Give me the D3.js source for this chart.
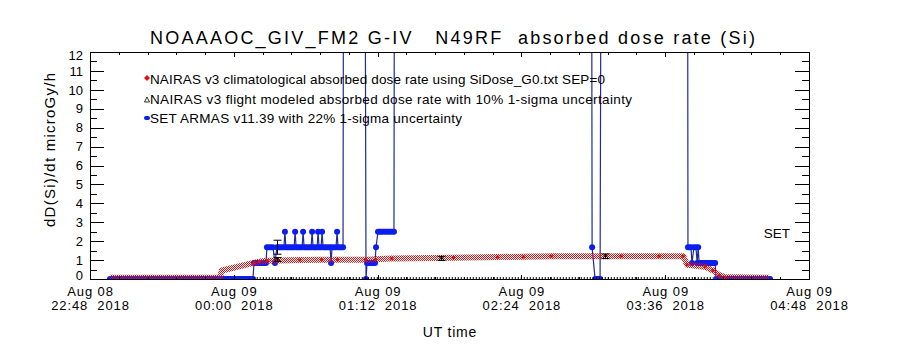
<!DOCTYPE html>
<html>
<head>
<meta charset="utf-8">
<script src="https://cdn.jsdelivr.net/npm/d3@7"></script>
<style>
  body { margin: 0; background: #fff; }
  text { font-family: "Liberation Sans", Arial, sans-serif; white-space: pre; fill: #000; }
</style>
</head>
<body>
<svg id="chart" width="900" height="350"></svg>
<script>
// ---------------------------------------------------------------------------
// DATA (times are "DD HH:MM:SS" in Aug 2018, UT)
// ---------------------------------------------------------------------------
const titleText = "NOAAAOC_GIV_FM2 G-IV   N49RF  absorbed dose rate (Si)";
const yLabelText = "dD(Si)/dt microGy/h";
const xLabelText = "UT time";
const legendLabels = [
  "NAIRAS v3 climatological absorbed dose rate using SiDose_G0.txt SEP=0",
  "NAIRAS v3 flight modeled absorbed dose rate with 10% 1-sigma uncertainty",
  "SET ARMAS v11.39 with 22% 1-sigma uncertainty",
];

const xDomain = ["08 22:48:00", "09 04:48:00"];
const xTickTimes = ["08 22:48:00", "09 00:00:00", "09 01:12:00", "09 02:24:00", "09 03:36:00", "09 04:48:00"];
const yTicks = [0, 1, 2, 3, 4, 5, 6, 7, 8, 9, 10, 11, 12];

// NAIRAS climatological dose rate
const climTimes = [
  "08 22:58:00", "08 23:25:00", "08 23:53:00", "08 23:54:00", "09 00:10:00", "09 00:13:00",
  "09 00:17:00", "09 00:33:00", "09 00:44:00", "09 00:52:00", "09 01:06:00", "09 01:11:00",
  "09 01:19:00", "09 01:50:00", "09 02:12:00", "09 02:25:00", "09 02:39:00", "09 03:14:00",
  "09 03:33:00", "09 03:45:00", "09 03:47:00", "09 03:56:00", "09 04:00:00", "09 04:03:00",
  "09 04:06:00", "09 04:28:00",
];
const climValues = [
  0.06, 0.06, 0.06, 0.45, 0.85, 0.92,
  0.97, 1.0, 1.02, 1.02, 1.02, 1.04,
  1.08, 1.12, 1.16, 1.18, 1.2, 1.2,
  1.2, 1.2, 0.75, 0.65, 0.45, 0.2,
  0.1, 0.06,
];

// NAIRAS flight modeled points (10% 1-sigma)
const flightTimes = ["09 00:21:36", "09 01:43:48", "09 03:05:54"];
const flightValues = [1.03, 1.09, 1.2];
const flightSigma = 0.10;

// SET ARMAS error bar (22% 1-sigma)
const setErrTimes = ["09 00:21:36"];
const setErrValues = [1.68];
const setSigma = 0.22;

// SET ARMAS dose rate, as runs of a constant level: [start, end, value]
const setRuns = [
  ["08 22:58:00", "09 00:09:36", 0],
  ["09 00:10:06", "09 00:16:06", 0.85],
  ["09 00:16:36", "09 00:19:36", 1.68],
  ["09 00:20:36", "09 00:20:36", 0.85],
  ["09 00:21:36", "09 00:25:06", 1.68],
  ["09 00:25:36", "09 00:25:36", 2.5],
  ["09 00:26:06", "09 00:30:12", 1.68],
  ["09 00:30:42", "09 00:30:42", 2.5],
  ["09 00:31:12", "09 00:34:12", 1.68],
  ["09 00:34:42", "09 00:34:42", 2.5],
  ["09 00:35:12", "09 00:38:42", 1.68],
  ["09 00:39:12", "09 00:39:12", 2.5],
  ["09 00:39:42", "09 00:41:42", 1.68],
  ["09 00:42:12", "09 00:42:12", 2.5],
  ["09 00:42:42", "09 00:43:42", 1.68],
  ["09 00:44:12", "09 00:44:12", 2.5],
  ["09 00:44:42", "09 00:48:12", 1.68],
  ["09 00:48:42", "09 00:48:42", 0.85],
  ["09 00:49:12", "09 00:51:12", 1.68],
  ["09 00:51:42", "09 00:51:42", 2.5],
  ["09 00:52:12", "09 00:54:42", 1.68],
  ["09 00:55:12", "09 01:05:12", 40],
  ["09 01:06:12", "09 01:06:12", 0],
  ["09 01:06:42", "09 01:10:42", 0.85],
  ["09 01:11:12", "09 01:11:12", 1.68],
  ["09 01:12:12", "09 01:20:12", 2.5],
  ["09 01:20:42", "09 02:58:54", 40],
  ["09 02:59:24", "09 02:59:24", 1.68],
  ["09 03:00:54", "09 03:03:24", 0],
  ["09 03:04:24", "09 03:47:00", 40],
  ["09 03:47:24", "09 03:48:54", 1.68],
  ["09 03:49:24", "09 03:49:24", 0.85],
  ["09 03:50:24", "09 03:51:24", 1.68],
  ["09 03:52:00", "09 03:52:00", 0.85],
  ["09 03:52:30", "09 03:52:30", 1.68],
  ["09 03:53:00", "09 04:01:00", 0.85],
  ["09 04:01:30", "09 04:28:30", 0],
];

// period where the instrument tick marks run along the bottom axis
const armasOn = ["09 00:10:00", "09 04:00:00"];

const setLabel = { text: "SET", value: 2.2 };

// ---------------------------------------------------------------------------
// LAYOUT
// ---------------------------------------------------------------------------
const colors = {
  clim: "#dd1111",
  setLine: "#1e2a9e",
  setDot: "#0b1ef0",
  black: "#000",
};

const plot = { left: 90, right: 809, top: 52, bottom: 279 };
const fontSize = 13.5;

const parseT = s => d3.utcParse("%Y-%m-%d %H:%M:%S")("2018-08-" + s);

const svg = d3.select("#chart");

const x = d3.scaleUtc()
  .domain(xDomain.map(parseT))
  .range([plot.left, plot.right]);

const y = d3.scaleLinear()
  .domain([0, 12])
  .range([plot.bottom, plot.top]);

const defs = svg.append("defs");
defs.append("clipPath").attr("id", "plot-clip")
  .append("rect")
    .attr("x", plot.left).attr("y", plot.top)
    .attr("width", plot.right - plot.left).attr("height", plot.bottom - plot.top);

// red / transparent checker used for the climatological band
const hatch = defs.append("pattern")
  .attr("id", "hatch")
  .attr("patternUnits", "userSpaceOnUse")
  .attr("width", 2).attr("height", 2);
hatch.append("rect").attr("x", 0).attr("y", 0).attr("width", 1).attr("height", 1).attr("fill", colors.clim);
hatch.append("rect").attr("x", 1).attr("y", 1).attr("width", 1).attr("height", 1).attr("fill", colors.clim);

const data = svg.append("g").attr("clip-path", "url(#plot-clip)");

// ---------------------------------------------------------------------------
// SET ARMAS
// ---------------------------------------------------------------------------
const setPoints = setRuns.flatMap(([s, e, v]) => [[parseT(s), v], [parseT(e), v]]);

data.append("path")
  .attr("d", d3.line().x(d => x(d[0])).y(d => y(d[1]))(setPoints))
  .attr("fill", "none")
  .attr("stroke", colors.setLine)
  .attr("stroke-width", 1.2);

data.selectAll(".set-run")
  .data(setRuns)
  .enter().append("line")
    .attr("class", "set-run")
    .attr("x1", d => x(parseT(d[0])))
    .attr("x2", d => x(parseT(d[1])) + 0.01)
    .attr("y1", d => y(d[2]))
    .attr("y2", d => y(d[2]))
    .attr("stroke", colors.setDot)
    .attr("stroke-width", 6)
    .attr("stroke-linecap", "round");

// ---------------------------------------------------------------------------
// NAIRAS CLIMATOLOGICAL
// ---------------------------------------------------------------------------
const climPoints = climTimes.map((t, i) => [parseT(t), climValues[i]]);

data.append("path")
  .attr("d", d3.line().x(d => x(d[0])).y(d => y(d[1]))(climPoints))
  .attr("fill", "none")
  .attr("stroke", "url(#hatch)")
  .attr("stroke-width", 6)
  .attr("stroke-linejoin", "round");

data.selectAll(".clim-dot")
  .data(climPoints.slice(4, -1))
  .enter().append("circle")
    .attr("class", "clim-dot")
    .attr("cx", d => x(d[0]))
    .attr("cy", d => y(d[1]))
    .attr("r", 1.7)
    .attr("fill", colors.clim);

// ---------------------------------------------------------------------------
// ERROR BARS
// ---------------------------------------------------------------------------
const errBars = [
  ...flightTimes.map((t, i) => ({ t: parseT(t), v: flightValues[i], s: flightSigma, tri: true })),
  ...setErrTimes.map((t, i) => ({ t: parseT(t), v: setErrValues[i], s: setSigma, tri: false })),
];

const errG = data.selectAll(".err")
  .data(errBars)
  .enter().append("g")
    .attr("class", "err")
    .attr("stroke", colors.black)
    .attr("stroke-width", 1)
    .attr("fill", "none");
errG.append("path")
  .attr("d", d => {
    const cx = Math.round(x(d.t)) + 0.5;
    const lo = y(d.v * (1 - d.s)), hi = y(d.v * (1 + d.s));
    return `M${cx - 4},${hi}H${cx + 4}M${cx},${hi}V${lo}M${cx - 4},${lo}H${cx + 4}`;
  });
errG.filter(d => d.tri).append("path")
  .attr("d", d => {
    const cx = Math.round(x(d.t)) + 0.5, cy = y(d.v);
    return `M${cx - 2.5},${cy + 2}L${cx},${cy - 2}L${cx + 2.5},${cy + 2}Z`;
  });

// instrument ticks along the bottom
svg.append("line")
  .attr("x1", x(parseT(armasOn[0])))
  .attr("x2", x(parseT(armasOn[1])))
  .attr("y1", plot.bottom - 1)
  .attr("y2", plot.bottom - 1)
  .attr("stroke", colors.black)
  .attr("stroke-width", 2)
  .attr("stroke-dasharray", "1 2");

// ---------------------------------------------------------------------------
// AXES
// ---------------------------------------------------------------------------
svg.append("rect")
  .attr("x", plot.left).attr("y", plot.top)
  .attr("width", plot.right - plot.left).attr("height", plot.bottom - plot.top)
  .attr("fill", "none")
  .attr("stroke", colors.black)
  .attr("shape-rendering", "crispEdges");

const yMinor = d3.range(0.5, 12, 1);
const xMajor = xTickTimes.map(parseT);
const xMinor = [];
for (let i = 0; i < xMajor.length - 1; i++) {
  const step = (xMajor[i + 1] - xMajor[i]) / 5;
  for (let k = 1; k < 5; k++) xMinor.push(new Date(+xMajor[i] + k * step));
}

function styleAxis(g) {
  g.select(".domain").remove();
  g.selectAll(".tick line").attr("shape-rendering", "crispEdges");
  g.selectAll(".tick text").attr("font-size", 13).attr("font-family", null);
}

// left
svg.append("g")
  .attr("transform", `translate(${plot.left},0)`)
  .call(d3.axisLeft(y).tickValues(yTicks).tickSize(-14.4).tickPadding(7))
  .call(styleAxis)
  .call(g => g.selectAll(".tick text")
    .attr("dy", d => d === 0 ? "0em" : d === 12 ? "0.55em" : "0.32em"));
svg.append("g")
  .attr("transform", `translate(${plot.left},0)`)
  .call(d3.axisLeft(y).tickValues(yMinor).tickSize(-7).tickFormat(""))
  .call(styleAxis);

// right
svg.append("g")
  .attr("transform", `translate(${plot.right},0)`)
  .call(d3.axisRight(y).tickValues(yTicks).tickSize(-14.4).tickFormat(""))
  .call(styleAxis);
svg.append("g")
  .attr("transform", `translate(${plot.right},0)`)
  .call(d3.axisRight(y).tickValues(yMinor).tickSize(-7).tickFormat(""))
  .call(styleAxis);

// bottom
const fmtDay = d3.utcFormat("%b %d");
const fmtTime = d3.utcFormat("%H:%M  %Y");
const bottomAxis = svg.append("g")
  .attr("transform", `translate(0,${plot.bottom})`)
  .call(d3.axisBottom(x).tickValues(xMajor).tickSize(-4.5).tickFormat(""))
  .call(styleAxis);
bottomAxis.selectAll(".tick").each(function(d) {
  const tick = d3.select(this);
  tick.append("text")
    .attr("text-anchor", "middle")
    .attr("font-size", 13)
    .attr("letter-spacing", 0.9)
    .attr("y", 17)
    .text(fmtDay(d));
  tick.append("text")
    .attr("text-anchor", "middle")
    .attr("font-size", 13)
    .attr("letter-spacing", 0.9)
    .attr("y", 31)
    .text(fmtTime(d));
});
svg.append("g")
  .attr("transform", `translate(0,${plot.bottom})`)
  .call(d3.axisBottom(x).tickValues(xMinor).tickSize(-2.5).tickFormat(""))
  .call(styleAxis);

// top
svg.append("g")
  .attr("transform", `translate(0,${plot.top})`)
  .call(d3.axisTop(x).tickValues(xMajor).tickSize(-4.5).tickFormat(""))
  .call(styleAxis);
svg.append("g")
  .attr("transform", `translate(0,${plot.top})`)
  .call(d3.axisTop(x).tickValues(xMinor).tickSize(-2.5).tickFormat(""))
  .call(styleAxis);

// ---------------------------------------------------------------------------
// TEXTS
// ---------------------------------------------------------------------------
svg.append("text")
  .attr("x", 150).attr("y", 44)
  .attr("font-size", 18)
  .attr("textLength", 605)
  .attr("lengthAdjust", "spacing")
  .text(titleText);

svg.append("text")
  .attr("transform", "translate(55,150) rotate(-90)")
  .attr("text-anchor", "middle")
  .attr("font-size", 15)
  .attr("textLength", 154)
  .attr("lengthAdjust", "spacing")
  .text(yLabelText);

svg.append("text")
  .attr("x", 450).attr("y", 337)
  .attr("text-anchor", "middle")
  .attr("font-size", 14)
  .attr("letter-spacing", 0.8)
  .text(xLabelText);

svg.append("text")
  .attr("x", 790).attr("y", y(setLabel.value) + 1)
  .attr("text-anchor", "end")
  .attr("font-size", fontSize)
  .text(setLabel.text);

// ---------------------------------------------------------------------------
// LEGEND
// ---------------------------------------------------------------------------
const legendRows = [84, 104, 123];
const legendWidths = [455, 482, 312];
const legend = svg.append("g");
legend.selectAll(".legend-text")
  .data(legendLabels)
  .enter().append("text")
    .attr("class", "legend-text")
    .attr("x", 150)
    .attr("y", (d, i) => legendRows[i])
    .attr("font-size", fontSize)
    .attr("textLength", (d, i) => legendWidths[i])
    .attr("lengthAdjust", "spacing")
    .text(d => d);

legend.append("path")
  .attr("d", `M147,${legendRows[0] - 9}l3,3l-3,3l-3,-3Z`)
  .attr("fill", colors.clim);
legend.append("path")
  .attr("d", `M144.5,${legendRows[1] - 2}l2.5,-5l2.5,5Z`)
  .attr("fill", "none")
  .attr("stroke", colors.black)
  .attr("stroke-width", 0.8);
legend.append("rect")
  .attr("x", 144).attr("y", legendRows[2] - 7)
  .attr("width", 6).attr("height", 4)
  .attr("rx", 2)
  .attr("fill", colors.setDot);
</script>
</body>
</html>
